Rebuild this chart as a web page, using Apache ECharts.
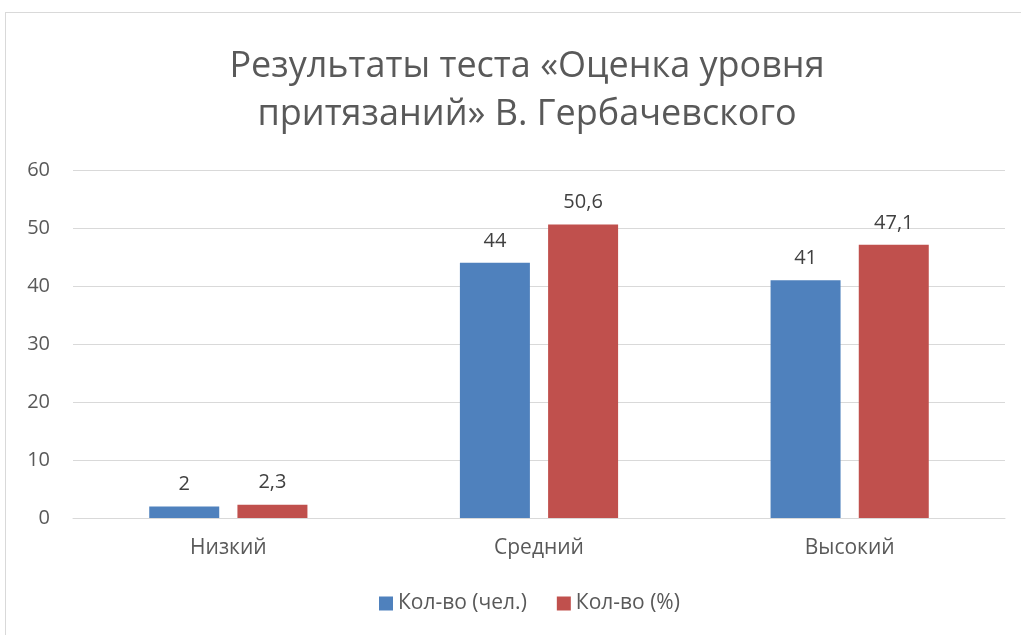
<!DOCTYPE html>
<html>
<head>
<meta charset="utf-8">
<script src="https://cdn.jsdelivr.net/npm/echarts@6/dist/echarts.min.js"></script>
<style>
  html, body { margin: 0; padding: 0; background: #fff; }
  #frame { position: absolute; left: 5px; top: 12px; width: 1030px; height: 640px; border: 1px solid #d9d9d9; }
  #chart { position: absolute; left: 0; top: 0; width: 1021px; height: 635px; }
</style>
</head>
<body>
<div id="frame"></div>
<div id="chart"></div>
<script>
let categories = ['Низкий', 'Средний', 'Высокий'];
let seriesNames = ['Кол-во (чел.)', 'Кол-во (%)'];
let people = [2, 44, 41];
let percent = [2.3, 50.6, 47.1];

let chart = echarts.init(document.getElementById('chart'));
let labelStyle = {
    show: true,
    position: 'top',
    distance: 12,
    color: '#404040',
    fontSize: 20,
    fontFamily: 'Open Sans',
    formatter(p) {
        return String(p.value).replace('.', ',');
    }
};
let option = {
    animation: false,
    textStyle: {fontFamily: 'Open Sans'},
    title: {
        text: 'Результаты теста «Оценка уровня\nпритязаний» В. Гербачевского',
        left: 522,
        top: 38,
        textAlign: 'center',
        textStyle: {
            color: '#595959',
            fontSize: 36,
            fontWeight: 'normal',
            fontFamily: 'Open Sans',
            lineHeight: 48
        }
    },
    legend: {
        bottom: 16,
        left: 374,
        icon: 'rect',
        itemWidth: 14,
        itemHeight: 14,
        itemGap: 30,
        textStyle: {color: '#595959', fontSize: 21, fontFamily: 'Open Sans'},
        data: seriesNames
    },
    grid: {left: 73, right: 16, top: 170, bottom: 117},
    xAxis: {
        type: 'category',
        data: categories,
        axisLine: {lineStyle: {color: '#d9d9d9'}},
        axisTick: {show: false},
        axisLabel: {color: '#595959', fontSize: 21, margin: 20}
    },
    yAxis: {
        type: 'value',
        min: 0,
        max: 60,
        interval: 10,
        axisLine: {show: false},
        axisTick: {show: false},
        axisLabel: {color: '#595959', fontSize: 20, margin: 23},
        splitLine: {lineStyle: {color: '#d9d9d9'}}
    },
    series: [
        {
            name: seriesNames[0],
            type: 'bar',
            data: people,
            barWidth: 70,
            barGap: '26%',
            itemStyle: {color: '#4F81BD'},
            label: labelStyle
        },
        {
            name: seriesNames[1],
            type: 'bar',
            data: percent,
            barWidth: 70,
            itemStyle: {color: '#C0504D'},
            label: labelStyle
        }
    ]
};
chart.setOption(option);
</script>
</body>
</html>
